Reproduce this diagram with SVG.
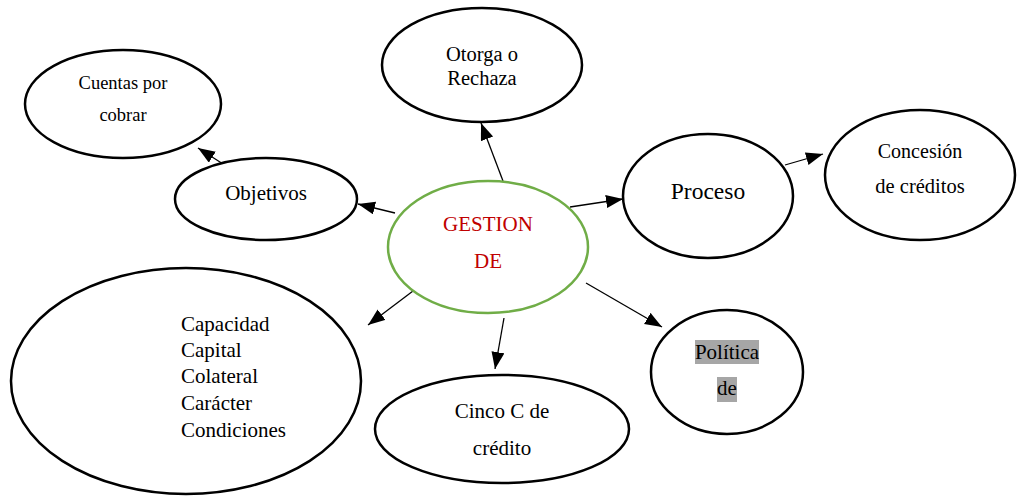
<svg xmlns="http://www.w3.org/2000/svg" width="1018" height="497" viewBox="0 0 1018 497">
<style>
.n{fill:#fff;stroke:#000;stroke-width:2.5}
.c{fill:#fff;stroke:#70ad47;stroke-width:2.5}
.t{font-family:'Liberation Serif','Times New Roman',serif;font-size:21px;fill:#000;text-anchor:middle}
.l{text-anchor:start}
.e{stroke:#000;stroke-width:1.3;fill:none;marker-end:url(#ah)}
.hl{fill:#a6a6a6}
</style>
<defs>
<marker id="ah" markerUnits="userSpaceOnUse" markerWidth="18" markerHeight="14" refX="17" refY="6.5" orient="auto"><path d="M0,0 L17,6.5 L0,13 z" fill="#000"/></marker>
</defs>
<g id="connectors">
<line class="e" x1="503" y1="181" x2="481" y2="123"/>
<line class="e" x1="395" y1="213" x2="358" y2="204"/>
<line class="e" x1="245" y1="178" x2="198" y2="148"/>
<line class="e" x1="570" y1="207" x2="623" y2="199"/>
<line class="e" x1="785" y1="165" x2="823" y2="154"/>
<line class="e" x1="586" y1="283" x2="662" y2="327"/>
<line class="e" x1="504" y1="318" x2="495" y2="369"/>
<line class="e" x1="413" y1="291" x2="368" y2="325"/>
</g>
<g id="otorga"><ellipse class="n" cx="482" cy="65" rx="100" ry="57"/><text class="t" style="font-size:20.5px" x="482" y="61">Otorga o</text><text class="t" style="font-size:20.5px" x="482" y="85">Rechaza</text></g>
<g id="cuentas"><ellipse class="n" cx="123" cy="104" rx="98" ry="54"/><text class="t" style="font-size:18.5px" x="123" y="89">Cuentas por</text><text class="t" style="font-size:18.5px" x="123" y="121">cobrar</text></g>
<g id="objetivos"><ellipse class="n" cx="266" cy="199" rx="91" ry="41"/><text class="t" x="266" y="200">Objetivos</text></g>
<g id="gestion"><ellipse class="c" cx="488" cy="247" rx="100" ry="66"/><text class="t" style="fill:#c00000" x="488" y="231">GESTION</text><text class="t" style="fill:#c00000" x="488" y="268">DE</text></g>
<g id="proceso"><ellipse class="n" cx="708" cy="196" rx="85" ry="62"/><text class="t" style="font-size:23.5px" x="708" y="199">Proceso</text></g>
<g id="concesion"><ellipse class="n" cx="920" cy="175" rx="95" ry="65"/><text class="t" style="font-size:20px" x="920" y="158">Concesión</text><text class="t" style="font-size:20.5px" x="920" y="193">de créditos</text></g>
<g id="politica"><ellipse class="n" cx="727" cy="372" rx="76" ry="62"/><rect class="hl" x="695" y="340" width="64" height="24"/><rect class="hl" x="717" y="377" width="20" height="25"/><text class="t" x="727" y="359">Política</text><text class="t" x="727" y="395">de</text></g>
<g id="cinco"><ellipse class="n" cx="502" cy="429" rx="127" ry="54"/><text class="t" x="502" y="418">Cinco C de</text><text class="t" x="502" y="455">crédito</text></g>
<g id="capacidad"><ellipse class="n" cx="186" cy="381" rx="175" ry="113"/><text class="t l" x="181" y="331">Capacidad</text><text class="t l" x="181" y="357">Capital</text><text class="t l" x="181" y="383">Colateral</text><text class="t l" x="181" y="410">Carácter</text><text class="t l" x="181" y="437">Condiciones</text></g>
</svg>
